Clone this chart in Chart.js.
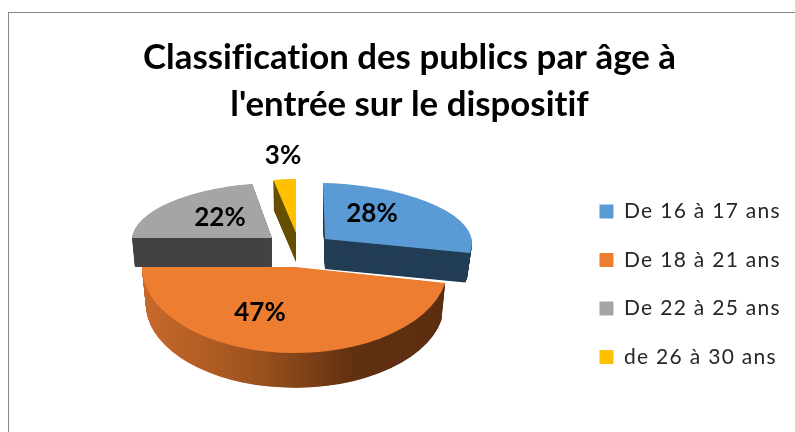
<!DOCTYPE html>
<html>
<head>
<meta charset="utf-8">
<script src="https://cdn.jsdelivr.net/npm/chart.js@4"></script>
<style>
html,body{margin:0;padding:0;background:#fff;overflow:hidden}
#frame{position:absolute;left:8px;top:12px;width:800px;height:430px;border-left:1px solid #868686;border-top:1px solid #868686}
canvas{position:absolute;left:0;top:0}
</style>
</head>
<body>
<div id="frame"></div>
<canvas id="c" width="795" height="432"></canvas>
<script>
const titleLines = ["Classification des publics par âge à", "l'entrée sur le dispositif"];
const categories = ["De 16 à 17 ans", "De 18 à 21 ans", "De 22 à 25 ans", "de 26 à 30 ans"];
const shares = [28, 47, 22, 3];
const topColours = ["#5B9BD5", "#ED7D31", "#A5A5A5", "#FFC000"];
const sideColours = ["#233E55", null, "#434343", "#665000"];
const orangeSideStops = [[0, "#C8692B"], [0.35, "#A0541F"], [0.7, "#603010"], [1, "#5C2E10"]];

// 3D projection of each exploded slice (the library supplies the angles)
const sliceOrigin = [[325, 239], [295, 267], [272, 238], [296, 233]];
const sliceRadiusX = [147, 153, 140, 121];
const sliceRadiusY = [56, 86, 55, 54];
const sliceShearY = [0.024, 0, 0, 0];
const sliceShearX = [0.036, 0, -0.12, 0];
const sliceDepth = [30, 37, 29, 29];
const sliceDepthShrink = [0.97, 0.975, 0.98, 0.98];
const drawOrder = [3, 2, 0, 1];
const labelPos = [[372, 214], [260, 313], [220, 218], [283, 156]];
const legendLetterSpacing = "1.3px";

const pie3d = {
  id: "pie3d",
  beforeUpdate(chart) {
    const lg = chart.legend;
    if (lg && !lg._spaced) {
      ["fit", "draw"].forEach(name => {
        const original = lg[name];
        lg[name] = function (...rest) {
          const before = chart.ctx.letterSpacing;
          chart.ctx.letterSpacing = legendLetterSpacing;
          const out = original.apply(this, rest);
          chart.ctx.letterSpacing = before;
          return out;
        };
      });
      lg._spaced = true;
    }
  },
  beforeDraw(chart) {
    chart.ctx.letterSpacing = "0.01px"; // keeps "fi" as two letters, as in the reference
  },
  beforeDatasetDraw(chart, args) {
    const ctx = chart.ctx;
    const meta = chart.getDatasetMeta(args.index);
    drawOrder.forEach(i => {
      const a = meta.data[i];
      const R = a.outerRadius;
      const [ox, oy] = sliceOrigin[i];
      const rx = sliceRadiusX[i], ry = sliceRadiusY[i], d = sliceDepth[i], sh = sliceDepthShrink[i];
      const shape = (dy, k) => {
        ctx.save();
        ctx.translate(ox, oy + dy);
        ctx.transform(1, sliceShearY[i], sliceShearX[i], 1, 0, 0);
        ctx.scale(rx * k / R, ry * k / R);
        ctx.beginPath();
        ctx.moveTo(0, 0);
        ctx.arc(0, 0, R, a.startAngle, a.endAngle);
        ctx.closePath();
        ctx.restore();
      };
      let side = sideColours[i];
      if (!side) {
        side = ctx.createLinearGradient(ox - rx, 0, ox + rx, 0);
        orangeSideStops.forEach(s => side.addColorStop(s[0], s[1]));
      }
      ctx.fillStyle = side;
      for (let s = d; s > 0; s -= 0.5) {
        shape(s, 1 - (1 - sh) * s / d);
        ctx.fill();
      }
      ctx.fillStyle = topColours[i];
      shape(0, 1);
      ctx.fill();
    });
    ctx.save();
    ctx.fillStyle = "#000";
    ctx.font = "bold 26px Lato";
    ctx.textAlign = "center";
    ctx.textBaseline = "middle";
    shares.forEach((v, i) => ctx.fillText(v + "%", labelPos[i][0], labelPos[i][1]));
    ctx.restore();
    return false;
  }
};

new Chart(document.getElementById("c"), {
  type: "pie",
  data: {
    labels: categories,
    datasets: [{ data: shares, backgroundColor: topColours, borderWidth: 0 }]
  },
  options: {
    responsive: false,
    animation: false,
    rotation: 0,
    layout: { padding: { left: 28, right: 4, top: 0, bottom: 37 } },
    plugins: {
      tooltip: { enabled: false },
      title: {
        display: true,
        text: titleLines,
        color: "#000",
        font: { family: "Lato", size: 34.8, weight: "bold", lineHeight: 1.35 },
        padding: { top: 34, bottom: 10 }
      },
      legend: {
        position: "right",
        align: "end",
        labels: {
          boxWidth: 14,
          boxHeight: 14,
          padding: 27.5,
          color: "#262626",
          font: { family: "Lato", size: 21 }
        }
      }
    }
  },
  plugins: [pie3d]
});
</script>
</body>
</html>
